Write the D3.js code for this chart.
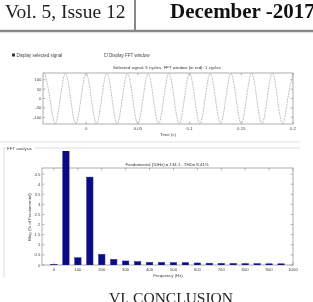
<!DOCTYPE html>
<html>
<head>
<meta charset="utf-8">
<script src="https://cdn.jsdelivr.net/npm/d3@7"></script>
<style>
  body { margin: 0; background: #fff; }
  svg { display: block; filter: blur(0.3px); }
</style>
</head>
<body>
<div id="page"></div>
<script>
// page text
const issueText = 'Vol. 5, Issue 12';
const dateText = 'December -2017';
const sectionText = 'VI. CONCLUSION';

// top panel: selected signal, read at quarter cycles (time in s)
const waveTime = [-0.0417,
  -0.040, -0.035, -0.030, -0.025, -0.020, -0.015, -0.010, -0.005,
   0.000,  0.005,  0.010,  0.015,  0.020,  0.025,  0.030,  0.035,
   0.040,  0.045,  0.050,  0.055,  0.060,  0.065,  0.070,  0.075,
   0.080,  0.085,  0.090,  0.095,  0.100,  0.105,  0.110,  0.115,
   0.120,  0.125,  0.130,  0.135,  0.140,  0.145,  0.150,  0.155,
   0.160,  0.165,  0.170,  0.175,  0.180,  0.185,  0.190,  0.195,
   0.200];
const waveValue = [116,
  134, 0, -134, 0, 134, 0, -134, 0,
  134, 0, -134, 0, 134, 0, -134, 0,
  134, 0, -134, 0, 134, 0, -134, 0,
  134, 0, -134, 0, 134, 0, -134, 0,
  134, 0, -134, 0, 134, 0, -134, 0,
  134, 0, -134, 0, 134, 0, -134, 0,
  134];
const waveXTicks = [0, 0.05, 0.1, 0.15, 0.2];
const waveXLabels = ['0', '0.05', '0.1', '0.15', '0.2'];
const waveYTicks = [100, 50, 0, -50, -100];

// bottom panel: FFT magnitudes (% of fundamental)
const fftFreq = [0, 50, 100, 150, 200, 250, 300, 350, 400, 450,
                 500, 550, 600, 650, 700, 750, 800, 850, 900, 950];
const fftMag = [0.03, 100, 0.36, 4.35, 0.53, 0.28, 0.20, 0.17, 0.13, 0.13,
                0.12, 0.12, 0.10, 0.09, 0.08, 0.08, 0.07, 0.07, 0.06, 0.06];
const fftXTicks = [0, 100, 200, 300, 400, 500, 600, 700, 800, 900, 1000];
const fftYTicks = [0, 0.5, 1, 1.5, 2, 2.5, 3, 3.5, 4, 4.5];

const width = 313, height = 302;
const small = 'Liberation Sans, Arial, sans-serif';
const serif = 'Liberation Serif, Times New Roman, serif';

const svg = d3.select('#page').append('svg')
  .attr('width', width)
  .attr('height', height);

// ---- page header ----
svg.append('text').attr('x', 5).attr('y', 18)
  .style('font-family', serif).style('font-size', '19.5px').style('fill', '#222')
  .text(issueText);
svg.append('text').attr('x', 170).attr('y', 18)
  .style('font-family', serif).style('font-size', '21px').style('font-weight', 'bold').style('fill', '#111')
  .text(dateText);
svg.append('line').attr('x1', 135).attr('x2', 135).attr('y1', 0).attr('y2', 30)
  .style('stroke', '#888').style('stroke-width', 2);
svg.append('line').attr('x1', 0).attr('x2', width).attr('y1', 31).attr('y2', 31)
  .style('stroke', '#888').style('stroke-width', 2.5);

// ---- checkboxes ----
svg.append('rect').attr('x', 12).attr('y', 53.5).attr('width', 3).attr('height', 3).style('fill', '#333');
svg.append('text').attr('x', 16.5).attr('y', 56.5)
  .style('font-family', small).style('font-size', '4.5px').style('fill', '#444')
  .text('Display selected signal');
svg.append('rect').attr('x', 104.5).attr('y', 53.5).attr('width', 3).attr('height', 3)
  .style('fill', 'none').style('stroke', '#666').style('stroke-width', 0.5);
svg.append('text').attr('x', 109).attr('y', 56.5)
  .style('font-family', small).style('font-size', '4.5px').style('fill', '#444')
  .text('Display FFT window');

// helper: MATLAB-like boxed axes with inward ticks
function drawBox(g, x, y, xTicks, xLabels, yTicks, yFmt) {
  const [x0, x1] = x.range();
  const [y0, y1] = y.range(); // bottom, top
  g.append('rect').attr('x', x0).attr('y', y1).attr('width', x1 - x0).attr('height', y0 - y1)
    .style('fill', '#fff').style('stroke', '#777').style('stroke-width', 0.6);
  const tk = 2.5;
  xTicks.forEach((t, i) => {
    const px = x(t);
    g.append('line').attr('x1', px).attr('x2', px).attr('y1', y0).attr('y2', y0 - tk)
      .style('stroke', '#777').style('stroke-width', 0.5);
    g.append('line').attr('x1', px).attr('x2', px).attr('y1', y1).attr('y2', y1 + tk)
      .style('stroke', '#777').style('stroke-width', 0.5);
    g.append('text').attr('x', px).attr('y', y0 + 5.5).attr('text-anchor', 'middle')
      .style('font-family', small).style('font-size', '4.3px').style('fill', '#444')
      .text(xLabels[i]);
  });
  yTicks.forEach(t => {
    const py = y(t);
    g.append('line').attr('x1', x0).attr('x2', x0 + tk).attr('y1', py).attr('y2', py)
      .style('stroke', '#777').style('stroke-width', 0.5);
    g.append('line').attr('x1', x1).attr('x2', x1 - tk).attr('y1', py).attr('y2', py)
      .style('stroke', '#777').style('stroke-width', 0.5);
    g.append('text').attr('x', x0 - 1.5).attr('y', py + 1.5).attr('text-anchor', 'end')
      .style('font-family', small).style('font-size', '4.3px').style('fill', '#444')
      .text(yFmt(t));
  });
}

// ---- top plot: selected signal ----
const xWave = d3.scaleLinear().domain([-0.0417, 0.2]).range([43, 293]);
const yWave = d3.scaleLinear().domain([-136, 136]).range([124, 73]);
const wavePlot = svg.append('g');
drawBox(wavePlot, xWave, yWave, waveXTicks, waveXLabels, waveYTicks, d => String(d));

svg.append('clipPath').attr('id', 'clipWave').append('rect')
  .attr('x', 43).attr('y', 73).attr('width', 250).attr('height', 51);
const waveLine = d3.line()
  .x((d, i) => xWave(waveTime[i]))
  .y(d => yWave(d))
  .curve(d3.curveNatural);
wavePlot.append('path').datum(waveValue)
  .attr('clip-path', 'url(#clipWave)')
  .attr('d', waveLine)
  .style('fill', 'none').style('stroke', '#a2a8b8').style('stroke-width', 0.7)
  .style('stroke-dasharray', '2,0.8');

wavePlot.append('text').attr('x', 167).attr('y', 69).attr('text-anchor', 'middle')
  .style('font-family', small).style('font-size', '4.4px').style('fill', '#333')
  .text('Selected signal: 5 cycles. FFT window (in red): 1 cycles');
wavePlot.append('text').attr('x', 168).attr('y', 136).attr('text-anchor', 'middle')
  .style('font-family', small).style('font-size', '4.4px').style('fill', '#444')
  .text('Time (s)');

// ---- FFT analysis group ----
svg.append('line').attr('x1', 0).attr('x2', 300).attr('y1', 142).attr('y2', 142)
  .style('stroke', '#d4d4d4').style('stroke-width', 0.7);
svg.append('path').attr('d', 'M4,277 V148 H6 M35,148 H300')
  .style('fill', 'none').style('stroke', '#cfcfcf').style('stroke-width', 0.7);
svg.append('text').attr('x', 7).attr('y', 149.5)
  .style('font-family', small).style('font-size', '4.4px').style('fill', '#444')
  .text('FFT analysis');

// ---- bottom plot: FFT bars ----
const xFft = d3.scaleLinear().domain([-50, 1000]).range([42, 293]);
const yFft = d3.scaleLinear().domain([0, 4.8]).range([265, 168]);
const fftPlot = svg.append('g');
drawBox(fftPlot, xFft, yFft, fftXTicks, fftXTicks.map(String), fftYTicks, d => String(d));

svg.append('clipPath').attr('id', 'clipFft').append('rect')
  .attr('x', 42).attr('y', 151).attr('width', 251).attr('height', 114);
const bw = xFft(27) - xFft(0);
fftPlot.append('g').attr('clip-path', 'url(#clipFft)')
  .selectAll('rect')
  .data(fftMag)
  .enter().append('rect')
  .attr('x', (d, i) => xFft(fftFreq[i]) - bw / 2)
  .attr('y', d => yFft(d))
  .attr('width', bw)
  .attr('height', d => yFft(0) - yFft(d))
  .style('fill', '#0c0c82')
  .style('stroke', '#2e2ea0')
  .style('stroke-width', 0.5);

fftPlot.append('text').attr('x', 167).attr('y', 165.5).attr('text-anchor', 'middle')
  .style('font-family', small).style('font-size', '4.3px').style('fill', '#333')
  .text('Fundamental (50Hz) = 134.1 , THD= 8.41%');
fftPlot.append('text').attr('x', 168).attr('y', 277).attr('text-anchor', 'middle')
  .style('font-family', small).style('font-size', '4.3px').style('fill', '#444')
  .text('Frequency (Hz)');
fftPlot.append('text')
  .attr('transform', 'translate(31,217) rotate(-90)')
  .attr('text-anchor', 'middle')
  .style('font-family', small).style('font-size', '4.3px').style('fill', '#444')
  .text('Mag (% of Fundamental)');

// ---- following section heading (cut by the page edge, as in the scan) ----
svg.append('text').attr('x', 171).attr('y', 303).attr('text-anchor', 'middle')
  .style('font-family', serif).style('font-size', '15.5px').style('fill', '#222')
  .text(sectionText);
</script>
</body>
</html>
